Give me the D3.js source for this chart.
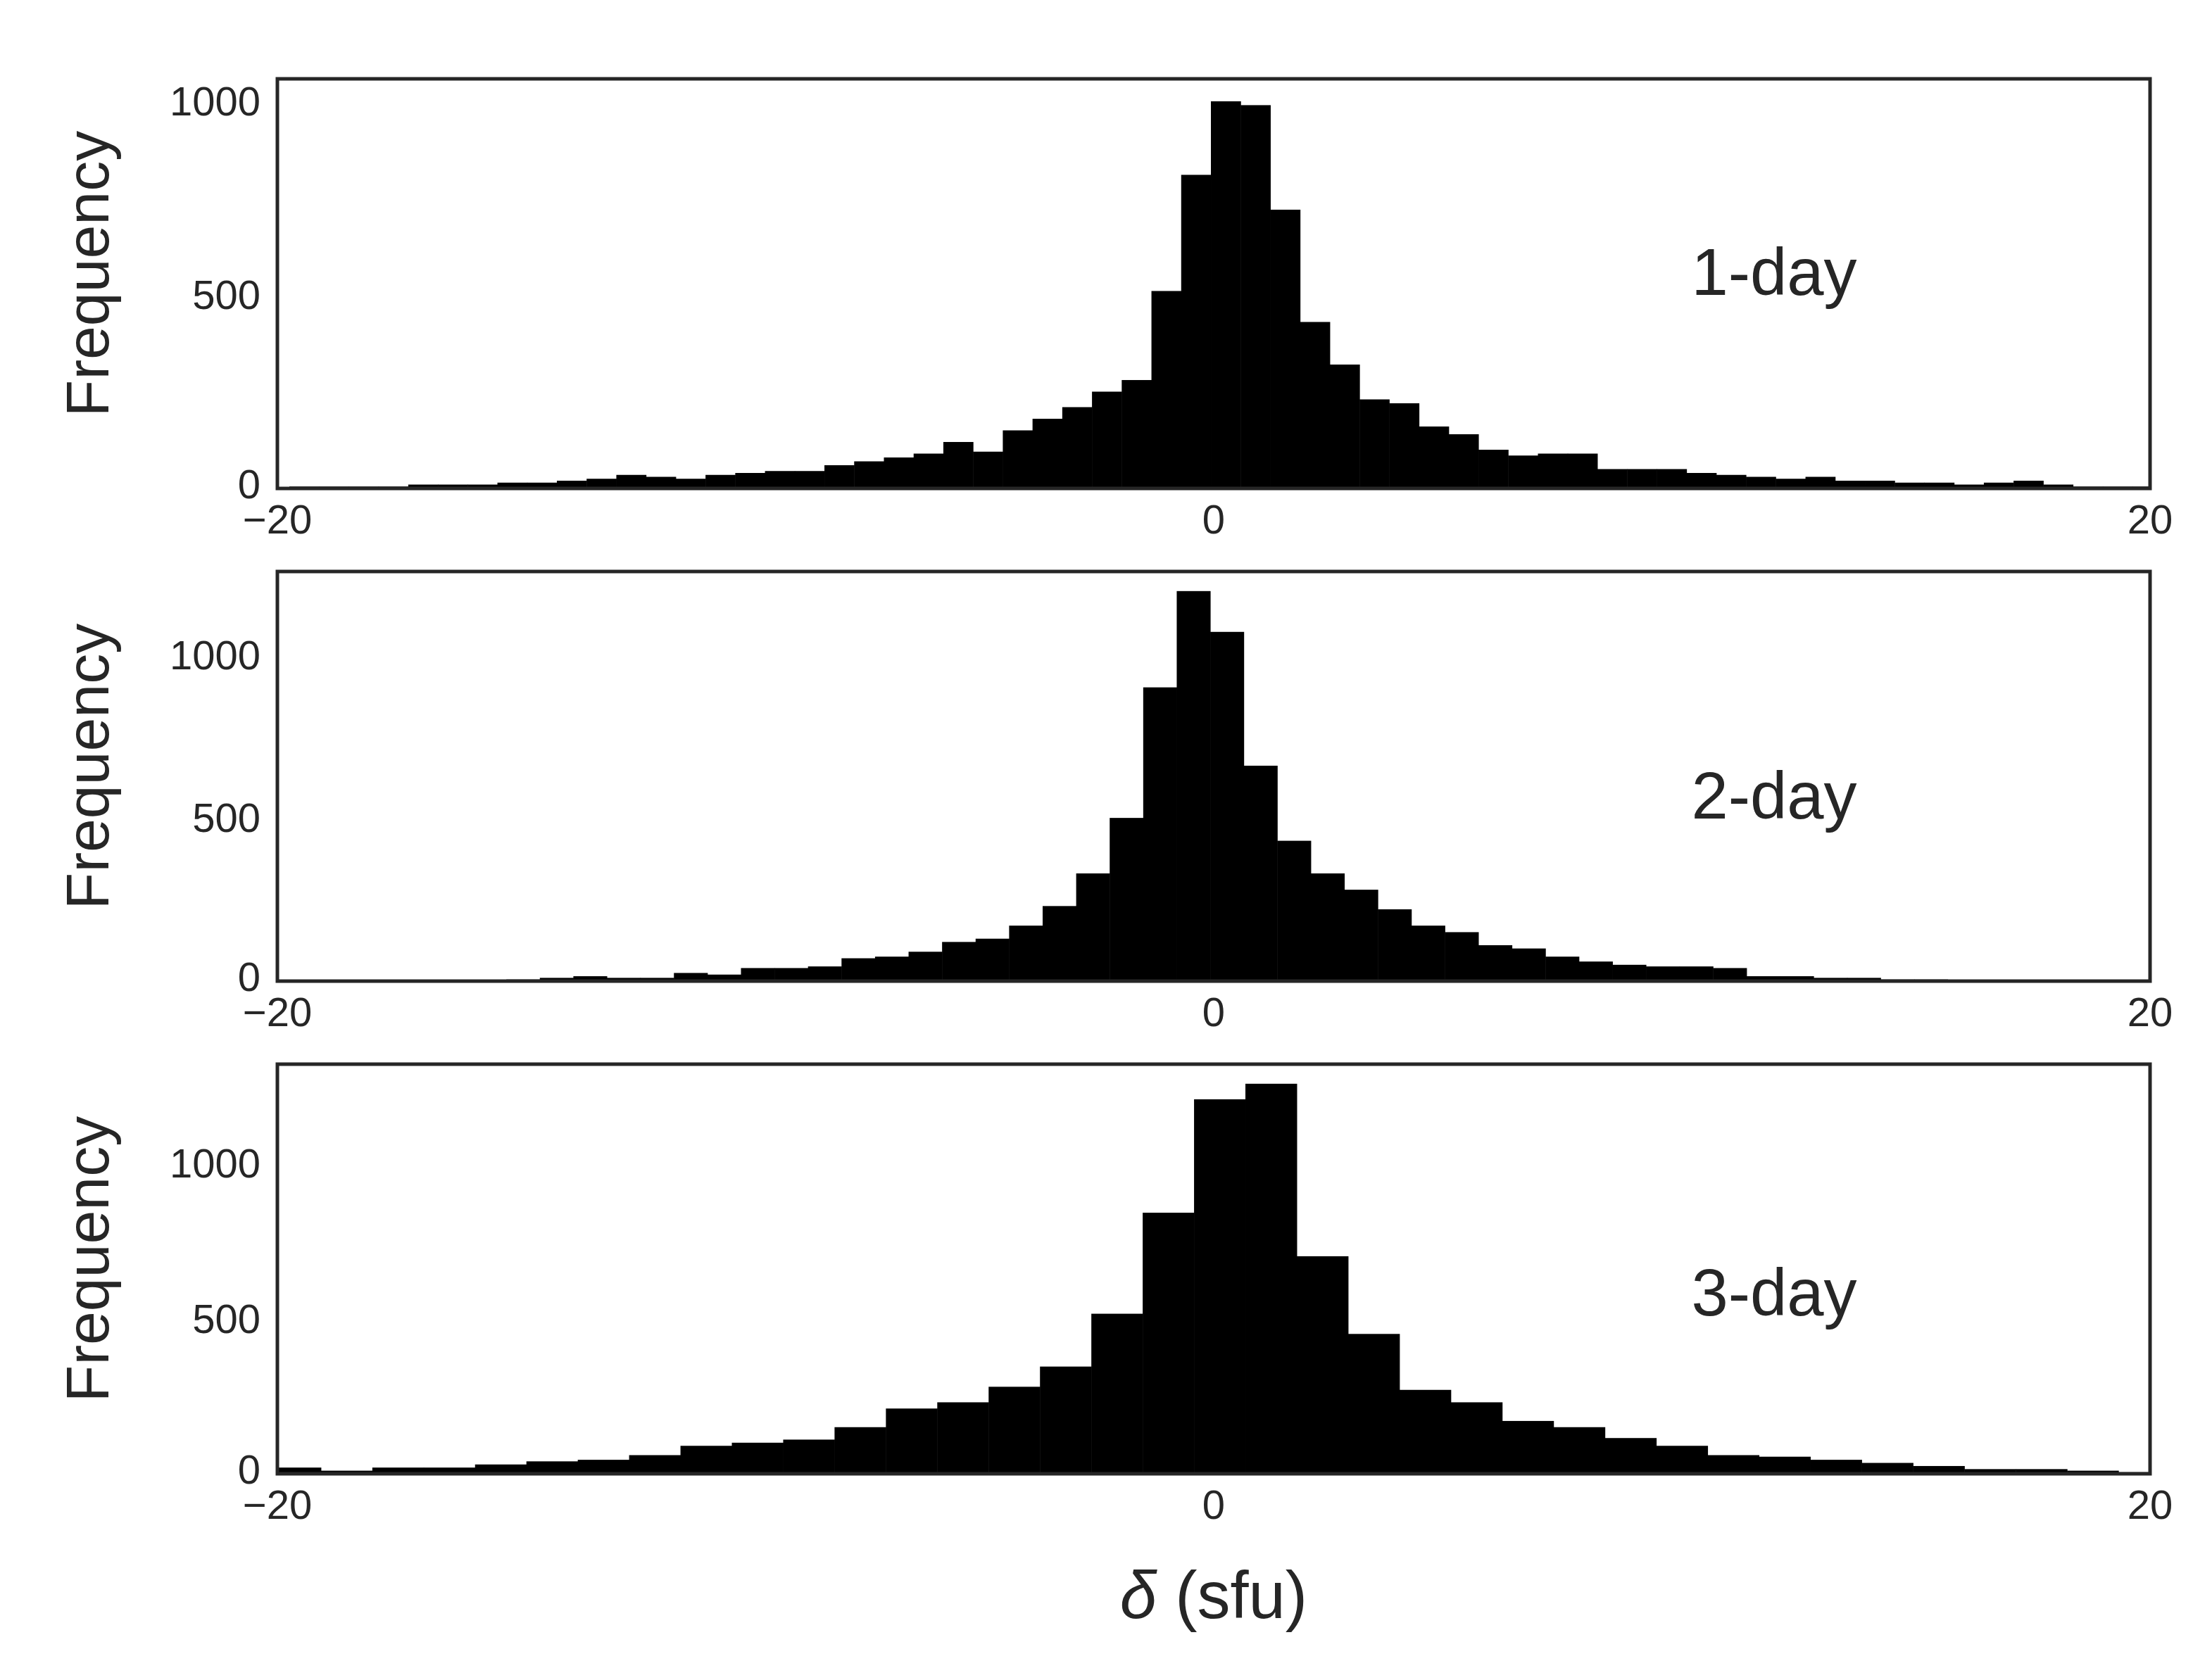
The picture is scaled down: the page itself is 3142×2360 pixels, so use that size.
<!DOCTYPE html>
<html><head><meta charset="utf-8">
<script src="https://cdn.jsdelivr.net/npm/d3@7"></script>
<style>body{margin:0;background:#fff}</style></head>
<body><svg id="c" width="3142" height="2360"></svg>
<script>
const panelLabels = ["1-day","2-day","3-day"];
const binWidths = [0.635, 0.716, 1.097];
const binOrigins = [-0.06, -0.79, -0.42];
const leftCounts = [
  [810,510,280,250,210,180,150,95,120,90,80,70,60,45,45,40,35,25,30,35,25,20,15,15,10,10,10,5,5,5,5],
  [900,500,330,230,170,130,120,90,75,70,45,40,40,20,25,10,10,15,10,5,3,3,2,2,2,2,2],
  [840,515,345,280,230,210,150,110,100,90,60,45,40,30,20,20,10,20]
];
const rightCounts = [
  [1000,990,720,430,320,230,220,160,140,100,85,90,90,50,50,50,40,35,30,25,30,20,20,15,15,10,15,20,10,5,5,5],
  [1195,1070,660,430,330,280,220,170,150,110,100,75,60,50,45,45,40,15,15,10,10,5,5,3,3,2,2,2,2],
  [1205,1255,700,450,270,230,170,150,115,90,60,55,45,35,25,15,15,10,5]
];
const yMax = [1058, 1255, 1318];
const xTicks = [-20, 0, 20];
const yTicks = [0, 500, 1000];

const svg = d3.select("#c");
const L = 394, R = 3054;
const tops = [112, 812, 1512], H = 582;
const x = d3.scaleLinear().domain([-20, 20]).range([L, R]);
const FF = "Liberation Sans, Arial, sans-serif";

panelLabels.forEach((lab, i) => {
  const top = tops[i], bot = top + H;
  const y = d3.scaleLinear().domain([0, yMax[i]]).range([bot, top]);
  const bins = [];
  leftCounts[i].forEach((c, k) => bins.push({x0: binOrigins[i] - (k+1)*binWidths[i], c}));
  rightCounts[i].forEach((c, k) => bins.push({x0: binOrigins[i] + k*binWidths[i], c}));
  const cid = "clip" + i;
  svg.append("clipPath").attr("id", cid).append("rect")
    .attr("x", L).attr("y", top).attr("width", R - L).attr("height", H);
  svg.append("g").attr("clip-path", `url(#${cid})`).selectAll("rect").data(bins).join("rect")
    .attr("x", d => x(d.x0)).attr("width", d => x(d.x0 + binWidths[i]) - x(d.x0) + 0.5)
    .attr("y", d => y(d.c)).attr("height", d => bot - y(d.c)).attr("fill", "#000");
  svg.append("rect").attr("x", L).attr("y", top).attr("width", R - L).attr("height", H)
    .attr("fill", "none").attr("stroke", "#262626").attr("stroke-width", 5);
  svg.append("g").selectAll("text").data(yTicks).join("text")
    .attr("x", L - 24).attr("y", d => y(d) - (d === 0 ? 6 : 0)).attr("dy", "0.35em").attr("text-anchor", "end")
    .attr("font-family", FF).attr("font-size", 58).attr("fill", "#262626")
    .text(d => d);
  svg.append("g").selectAll("text").data(xTicks).join("text")
    .attr("x", d => x(d)).attr("y", bot + 64).attr("text-anchor", "middle")
    .attr("font-family", FF).attr("font-size", 58).attr("fill", "#262626")
    .text(d => d < 0 ? "\u2212" + Math.abs(d) : d);
  svg.append("text").attr("transform", `translate(124,${top + H/2 - 14}) rotate(-90)`)
    .attr("text-anchor", "middle").attr("dy", "0.35em")
    .attr("font-family", FF).attr("font-size", 86).attr("fill", "#262626")
    .text("Frequency");
  svg.append("text").attr("x", 2520).attr("y", tops[i] + [274, 318, 324][i]).attr("text-anchor", "middle")
    .attr("dy", "0.35em")
    .attr("font-family", FF).attr("font-size", 94).attr("fill", "#262626")
    .text(lab);
});
const xl = svg.append("text").attr("x", 1724).attr("y", 2266).attr("text-anchor", "middle")
  .attr("dy", "0.35em").attr("font-family", FF)
  .attr("font-size", 94).attr("fill", "#262626");
xl.append("tspan").attr("font-style", "italic").text("δ");
xl.append("tspan").text(" (sfu)");
</script></body></html>
